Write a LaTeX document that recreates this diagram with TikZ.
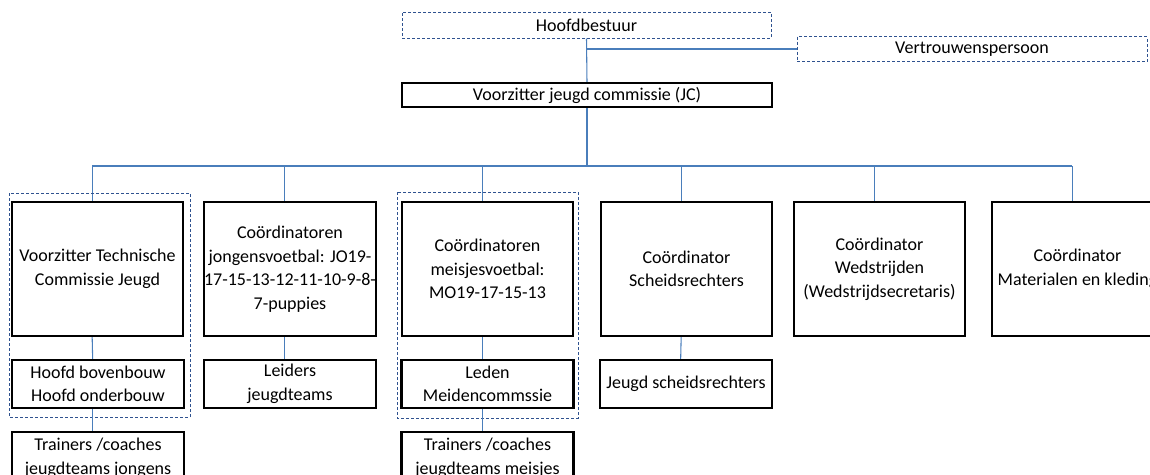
\documentclass[tikz,border=0pt]{standalone}
\usepackage{fontspec}
\setmainfont{Carlito}
\usepackage{tikz}

\definecolor{lineblue}{RGB}{74,126,187}
\definecolor{dashblue}{RGB}{47,82,143}
\newcommand\orgfont{\fontsize{13.5}{17.6}\selectfont}

\tikzset{
  orgbox/.style={draw=black, line width=1.6pt, align=center, inner sep=0pt},
  dashbox/.style={draw=dashblue, line width=0.75pt, dash pattern=on 2.25pt off 1.5pt, align=center, inner sep=0pt},
  coordbox/.style={orgbox, minimum width=128.25pt, minimum height=100.5pt},
  subbox/.style={orgbox, minimum width=129pt, minimum height=36pt},
  link/.style={draw=lineblue, line width=0.8pt}
}

\begin{document}
\begin{tikzpicture}[x=0.75pt, y=-0.75pt, font=\orgfont]
    \def \sh {4pt} % connectors sit a bit left of the box centres
    \useasboundingbox (0,0) rectangle (1150,475);
    % top of the chart
    \node[dashbox, minimum width=276.75pt, minimum height=19.5pt] (hb) at (586.5,25) {Hoofdbestuur};
    \node[dashbox, minimum width=262.5pt, minimum height=18.75pt] (vp) at (972,49) {Vertrouwenspersoon};
    \node[orgbox, minimum width=277.5pt, minimum height=18pt] (jc) at (587,95) {Voorzitter jeugd commissie (JC)};
    \coordinate (bus) at (587,166);
    % coordinators
    \foreach \name/\x/\txt in {
        c1/97.5/{Voorzitter Technische\\Commissie Jeugd},
        c2/290/{Coördinatoren\\jongensvoetbal: JO19-\\17-15-13-12-11-10-9-8-\\7-puppies},
        c3/487.5/{Coördinatoren\\meisjesvoetbal:\\MO19-17-15-13},
        c4/686.5/{Coördinator\\Scheidsrechters},
        c5/879.5/{Coördinator\\Wedstrijden\\(Wedstrijdsecretaris)},
        c6/1077.5/{Coördinator\\Materialen en kleding}}
    {
      \node[coordbox] (\name) at (\x,269) {\txt};
      \draw[link] ([xshift=-\sh]\name.north) -- ([xshift=-\sh]\name.north |- bus);
    }
    % second row
    \node[subbox] (s1) at (98,384) {Hoofd bovenbouw\\Hoofd onderbouw};
    \node[subbox] (s2) at (290,384) {Leiders\\jeugdteams};
    \node[subbox] (s3) at (487.5,384) {Leden\\Meidencommssie};
    \node[subbox] (s4) at (686,384) {Jeugd scheidsrechters};
    % third row
    \node[subbox, minimum height=39pt] (t1) at (98,458) {Trainers /coaches\\jeugdteams jongens};
    \node[subbox, minimum height=39pt] (t3) at (487.5,458) {Trainers /coaches\\jeugdteams meisjes};
    % groups
    \draw[dashblue, line width=0.75pt, dash pattern=on 2.25pt off 1.5pt] (9,193) rectangle (190,417);
    \draw[dashblue, line width=0.75pt, dash pattern=on 2.25pt off 1.5pt] (397,192) rectangle (578,418);
    % connectors
    \draw[link] (hb.south) -- (jc.north);
    \draw[link] (hb.south |- vp.west) -- (vp.west);
    \draw[link] (jc.south) -- (bus);
    \draw[link] ([xshift=-\sh]c1.north |- bus) -- ([xshift=-\sh]c6.north |- bus);
    \foreach \a/\b in {c1/s1, c2/s2, c3/s3, c4/s4, s1/t1, s3/t3}
      \draw[link] ([xshift=-\sh]\a.south) -- ([xshift=-\sh]\b.north);
\end{tikzpicture}
\end{document}
